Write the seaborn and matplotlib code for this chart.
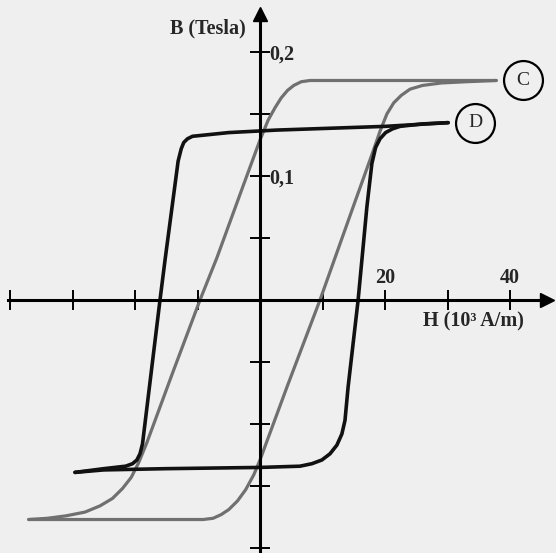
import numpy as np
import pandas as pd
import matplotlib
matplotlib.use('Agg')
import matplotlib.pyplot as plt
import seaborn as sns

# ==================== DATA ====================
# H in 10^3 A/m, B in Tesla

# loop C - ascending branch (bottom left -> top right)
c_up_H = [-37.0, -20.0, -9.1, -7.5, -6.2, -5.0, -3.6, -2.3, -1.0, 0.0, 4.4, 9.6,
          14.9, 18.1, 19.2, 20.3, 21.4, 22.6, 24.0, 26.0, 29.0, 33.0, 37.8]
c_up_B = [-0.177, -0.177, -0.177, -0.176, -0.173, -0.169, -0.162, -0.153, -0.141, -0.129, -0.069, 0.0,
          0.075, 0.120, 0.136, 0.150, 0.159, 0.165, 0.170, 0.173, 0.175, 0.176, 0.177]

# loop C - descending branch (top right -> bottom left)
c_down_H = [37.8, 20.0, 8.0, 6.6, 5.4, 4.4, 3.4, 2.4, 1.3, 0.0, -2.7, -6.9, -9.6,
            -14.0, -18.1, -19.4, -20.6, -22.0, -23.6, -25.6, -28.0, -31.0, -34.0, -37.0]
c_down_B = [0.177, 0.177, 0.177, 0.176, 0.173, 0.169, 0.163, 0.155, 0.145, 0.129, 0.092, 0.034, 0.0,
            -0.059, -0.115, -0.131, -0.143, -0.152, -0.160, -0.166, -0.171, -0.174, -0.176, -0.177]

# loop D - ascending branch
d_up_H = [-29.6, -25.0, -15.0, 0.0, 6.4, 8.3, 9.9, 11.2, 12.3, 13.1, 13.6, 14.1, 15.7,
          17.1, 17.9, 18.5, 19.2, 20.1, 21.2, 22.4, 26.0, 30.1]
d_up_B = [-0.139, -0.137, -0.136, -0.135, -0.134, -0.132, -0.129, -0.124, -0.117, -0.108, -0.097, -0.070, 0.0,
          0.075, 0.110, 0.123, 0.130, 0.135, 0.138, 0.140, 0.142, 0.143]

# loop D - descending branch
d_down_H = [30.1, 20.0, 2.6, -5.0, -10.8, -11.6, -12.2, -12.6, -13.1, -15.2, -16.0,
            -18.8, -19.2, -19.7, -20.4, -21.5, -25.0, -29.6]
d_down_B = [0.143, 0.140, 0.137, 0.135, 0.132, 0.130, 0.127, 0.122, 0.112, 0.032, 0.0,
            -0.116, -0.124, -0.129, -0.132, -0.134, -0.136, -0.139]

x_ticks = [-40, -30, -20, -10, 10, 20, 30, 40]
x_ticklabels = {20: '20', 40: '40'}
y_ticks = [-0.2, -0.15, -0.1, -0.05, 0.05, 0.1, 0.15, 0.2]
y_ticklabels = {0.1: '0,1', 0.2: '0,2'}

curve_labels = {'C': (42.1, 0.177), 'D': (34.4, 0.143)}

# ==================== PLOT ====================
sns.set_style('white')
plt.rcParams['font.family'] = ['Liberation Serif', 'DejaVu Serif']

bg = '#efefef'
fig = plt.figure(figsize=(5.56, 5.53), dpi=100)
fig.patch.set_facecolor(bg)
ax = fig.add_axes([0, 0, 1, 1])
ax.set_facecolor(bg)

branches = [
    (c_up_H, c_up_B, '#707070', 2.3),
    (c_down_H, c_down_B, '#707070', 2.3),
    (d_up_H, d_up_B, '#111111', 2.6),
    (d_down_H, d_down_B, '#111111', 2.6),
]
for hs, bs, col, lw in branches:
    df = pd.DataFrame({'H': hs, 'B': bs})
    sns.lineplot(data=df, x='H', y='B', sort=False, estimator=None,
                 color=col, lw=lw, ax=ax, zorder=3)

ax.set_xlim(-41.6, 47.36)
ax.set_ylim(-0.204, 0.2419)

# axes through the origin
for side in ['top', 'right']:
    ax.spines[side].set_visible(False)
ax.spines['left'].set_position(('data', 0))
ax.spines['bottom'].set_position(('data', 0))
ax.spines['left'].set_bounds(-0.204, 0.226)
ax.spines['bottom'].set_bounds(-40.3, 45.0)
for side in ['left', 'bottom']:
    ax.spines[side].set_linewidth(2.2)
    ax.spines[side].set_color('black')
    ax.spines[side].set_zorder(4)

ax.plot([45.9], [0], marker='>', ms=10, color='black', clip_on=False, zorder=5)
ax.plot([0], [0.2306], marker='^', ms=10, color='black', clip_on=False, zorder=5)

ax.set_xticks(x_ticks)
ax.set_yticks(y_ticks)
ax.set_xticklabels([])
ax.set_yticklabels([])
ax.tick_params(axis='both', direction='inout', length=14, width=1.4, color='black',
               bottom=True, left=True)
ax.set_xlabel('')
ax.set_ylabel('')

fs = 14.5
for h, lab in x_ticklabels.items():
    ax.text(h, 0.018, lab, ha='center', va='center', fontsize=fs, fontweight='bold')
for b, lab in y_ticklabels.items():
    ax.text(1.5, b - 0.002, lab, ha='left', va='center', fontsize=fs, fontweight='bold')

ax.text(-2.2, 0.219, 'B (Tesla)', ha='right', va='center', fontsize=fs, fontweight='bold')
ax.text(34.2, -0.017, 'H (10³ A/m)', ha='center', va='center', fontsize=fs, fontweight='bold')

for name, (h, b) in curve_labels.items():
    ax.plot([h], [b], marker='o', ms=28, mfc=bg, mec='black', mew=1.6, zorder=5)
    ax.text(h, b, name, ha='center', va='center', fontsize=14, zorder=6)

plt.savefig('out.png', dpi=100, facecolor=fig.get_facecolor())
